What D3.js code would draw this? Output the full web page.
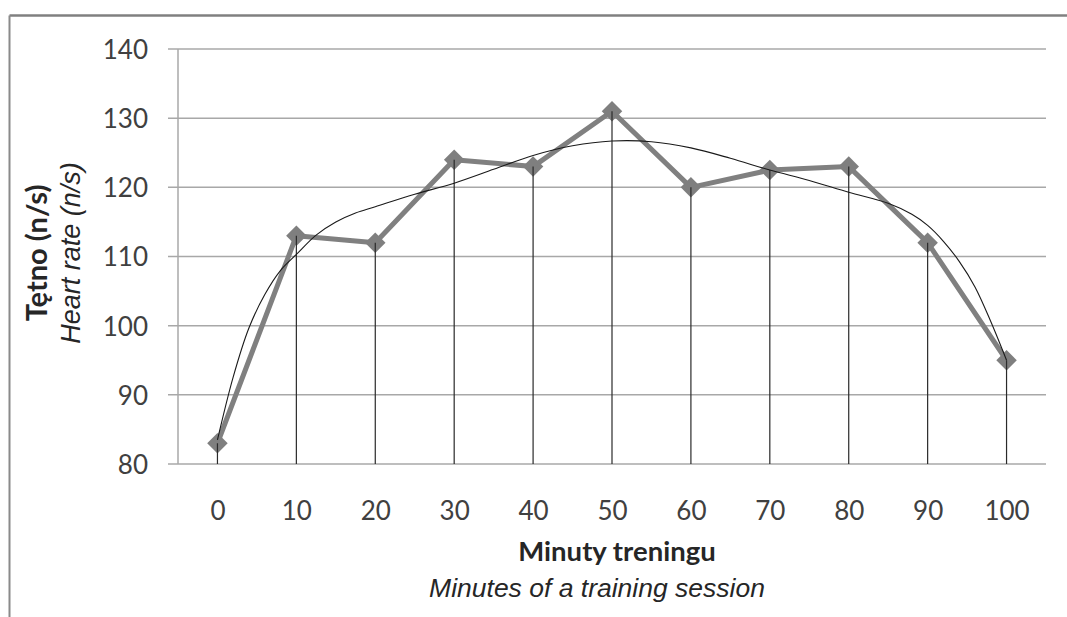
<!DOCTYPE html>
<html>
<head>
<meta charset="utf-8">
<script src="https://cdn.jsdelivr.net/npm/d3@7/dist/d3.min.js"></script>
<style>
  html, body { margin: 0; padding: 0; background: #fff; }
  svg { display: block; }
</style>
</head>
<body>
<svg id="chart" width="1067" height="617"></svg>
<script>
// ---- data ----
const minutes = [0, 10, 20, 30, 40, 50, 60, 70, 80, 90, 100];
const heartRate = [83, 113, 112, 124, 123, 131, 120, 122.5, 123, 112, 95];
const yTicks = [80, 90, 100, 110, 120, 130, 140];
// trend line (polynomial trend as drawn in the picture), sampled
const trendMinutes = [0, 2, 4, 6, 8, 10, 12.5, 15, 17.5, 20, 25, 30, 35, 40, 45, 50, 55, 60, 65, 70, 75, 80, 85, 88, 90, 92, 94, 96, 98, 100];
const trendValues  = [83.5, 92.6, 99.7, 104.5, 108.0, 110.3, 113.1, 115.0, 116.3, 117.2, 119.0, 120.6, 122.6, 124.6, 126.0, 126.7, 126.6, 125.7, 124.2, 122.5, 121.0, 119.3, 117.7, 116.1, 114.5, 112.2, 109.3, 105.6, 100.6, 95];
const yTitleBold = "Tętno (n/s)";
const yTitleItalic = "Heart rate (n/s)";
const xTitleBold = "Minuty treningu";
const xTitleItalic = "Minutes of a training session";

const svg = d3.select("#chart");
const plot = { left: 178, right: 1046, top: 49, bottom: 464 };

const x = d3.scaleLinear().domain([-5, 105]).range([plot.left, plot.right]);
const y = d3.scaleLinear().domain([80, 140]).range([plot.bottom, plot.top]);

// outer frame (partial, cropped)
svg.append("line").attr("x1", 9.5).attr("x2", 1067).attr("y1", 15.5).attr("y2", 15.5)
  .attr("stroke", "#808080").attr("stroke-width", 2.5);
svg.append("line").attr("x1", 9.5).attr("x2", 9.5).attr("y1", 15.5).attr("y2", 617)
  .attr("stroke", "#8a8a8a").attr("stroke-width", 2);

// gridlines (with tick stubs left of the axis)
svg.append("g").selectAll("line").data(yTicks).join("line")
  .attr("x1", plot.left - 10).attr("x2", plot.right)
  .attr("y1", d => y(d)).attr("y2", d => y(d))
  .attr("stroke", "#a8a8a8").attr("stroke-width", 1.5);
svg.append("line").attr("x1", plot.left).attr("x2", plot.left)
  .attr("y1", y(140)).attr("y2", y(80)).attr("stroke", "#a8a8a8").attr("stroke-width", 1.5);

const tickFont = "Lato, 'Open Sans', sans-serif";
const yLabels = d3.axisLeft(y).tickValues(yTicks).tickSize(0).tickPadding(30).tickFormat(d3.format("d"));
const gyl = svg.append("g").attr("transform", `translate(${plot.left},0)`).call(yLabels);
gyl.select(".domain").remove();
gyl.selectAll("text").attr("font-family", tickFont).attr("font-size", 26)
  .attr("fill", "#404040").attr("dy", "0.36em");

// x axis labels
const xLabels = d3.axisBottom(x).tickValues(minutes).tickSize(0).tickPadding(38).tickFormat(d3.format("d"));
const gxl = svg.append("g").attr("transform", `translate(0,${plot.bottom})`).call(xLabels);
gxl.select(".domain").remove();
gxl.selectAll("text").attr("font-family", tickFont).attr("font-size", 26)
  .attr("fill", "#404040");

const pts = minutes.map((m, i) => [m, heartRate[i]]);

// series line
svg.append("path").datum(pts)
  .attr("fill", "none").attr("stroke", "#808080").attr("stroke-width", 5).attr("stroke-linejoin", "round")
  .attr("d", d3.line().x(d => x(d[0])).y(d => y(d[1])));

// markers
svg.append("g").selectAll("path").data(pts).join("path")
  .attr("d", d3.symbol(d3.symbolSquare, 210))
  .attr("transform", d => `translate(${x(d[0])},${y(d[1])}) rotate(45)`)
  .attr("fill", "#7f7f7f");

// drop lines
svg.append("g").selectAll("line").data(pts).join("line")
  .attr("x1", d => x(d[0])).attr("x2", d => x(d[0]))
  .attr("y1", d => y(d[1])).attr("y2", y(80))
  .attr("stroke", "#2a2a2a").attr("stroke-width", 1.2);

// trend line
svg.append("path").datum(trendMinutes.map((m, i) => [m, trendValues[i]]))
  .attr("fill", "none").attr("stroke", "#1a1a1a").attr("stroke-width", 1.1)
  .attr("d", d3.line().curve(d3.curveCatmullRom).x(d => x(d[0])).y(d => y(d[1])));

// axis titles
const yt = svg.append("g").attr("transform", "translate(0,253) rotate(-90)");
yt.append("text").attr("x", 0).attr("y", 47).attr("text-anchor", "middle")
  .attr("font-family", tickFont).attr("font-weight", "bold")
  .attr("font-size", 29).attr("fill", "#262626").text(yTitleBold);
yt.append("text").attr("x", 0).attr("y", 80).attr("text-anchor", "middle")
  .attr("font-family", "'Liberation Sans', Arial, sans-serif").attr("font-style", "italic")
  .attr("font-size", 27).attr("fill", "#262626").text(yTitleItalic);

svg.append("text").attr("x", 617).attr("y", 561).attr("text-anchor", "middle")
  .attr("font-family", tickFont).attr("font-weight", "bold")
  .attr("font-size", 27.5).attr("fill", "#262626").text(xTitleBold);
svg.append("text").attr("x", 597).attr("y", 597).attr("text-anchor", "middle")
  .attr("font-family", "'Liberation Sans', Arial, sans-serif").attr("font-style", "italic")
  .attr("font-size", 26.5).attr("fill", "#262626").text(xTitleItalic);
</script>
</body>
</html>
